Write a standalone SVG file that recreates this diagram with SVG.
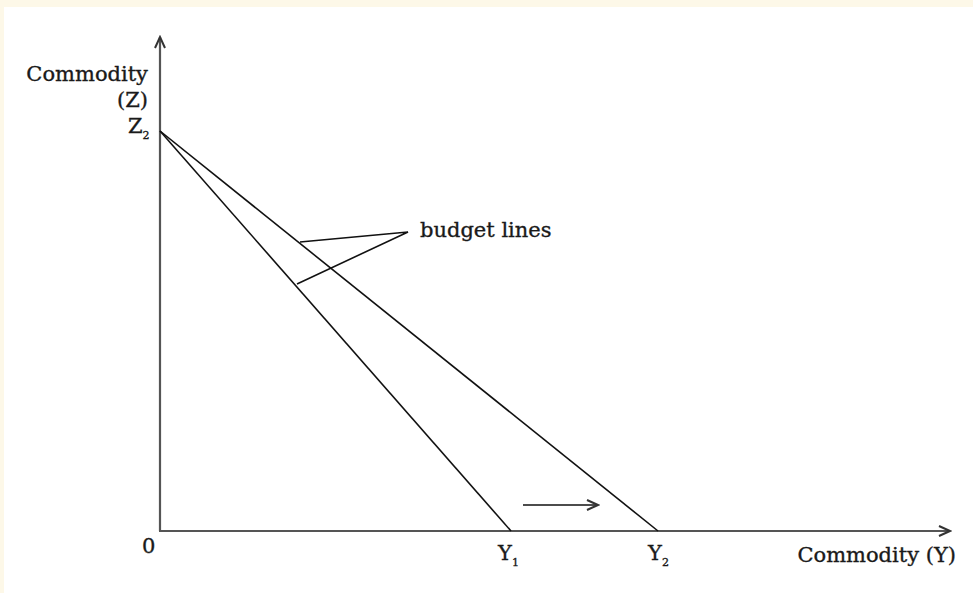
<svg xmlns="http://www.w3.org/2000/svg" width="973" height="593" viewBox="0 0 973 593">
<style>
text{font-family:"DejaVu Serif","Liberation Serif",serif;fill:#1a1a1a;stroke:#1a1a1a;stroke-width:0.35;font-size:21px}
.sub{font-size:11px}
.axis{stroke:#555;stroke-width:2.2;fill:none}
.line{stroke:#111;stroke-width:1.6;fill:none}
</style>
<defs>
<marker id="chev" markerWidth="14" markerHeight="12" refX="12" refY="6" orient="auto" markerUnits="userSpaceOnUse">
<path d="M1,1 L12,6 L1,11" fill="none" stroke="#333" stroke-width="2"/>
</marker>
</defs>
<rect width="973" height="593" fill="#fff"/>
<rect x="0" y="0" width="973" height="7" fill="#fdf8e8"/>
<rect x="0" y="0" width="4" height="593" fill="#fdf8e8"/>
<g id="axes">
<line class="axis" x1="160" y1="531" x2="160" y2="37" marker-end="url(#chev)"/>
<line class="axis" x1="159" y1="531" x2="950" y2="531" marker-end="url(#chev)"/>
</g>
<g id="connectors">
<line id="budget1" class="line" x1="160" y1="131" x2="511" y2="531"/>
<line id="budget2" class="line" x1="160" y1="131" x2="658" y2="531"/>
<polyline class="line" points="300,242 408,232 297,284"/>
<line class="line" x1="523" y1="505" x2="598" y2="505" marker-end="url(#chev)"/>
</g>
<g id="labels">
<text x="148" y="81" text-anchor="end">Commodity</text>
<text x="148" y="107" text-anchor="end">(Z)</text>
<text x="128" y="133">Z<tspan class="sub" dy="6">2</tspan></text>
<text x="142" y="553">0</text>
<text x="498" y="560">Y<tspan class="sub" dy="6">1</tspan></text>
<text x="648" y="560">Y<tspan class="sub" dy="6">2</tspan></text>
<text x="956" y="562" text-anchor="end">Commodity (Y)</text>
<text x="420" y="237">budget lines</text>
</g>
</svg>
